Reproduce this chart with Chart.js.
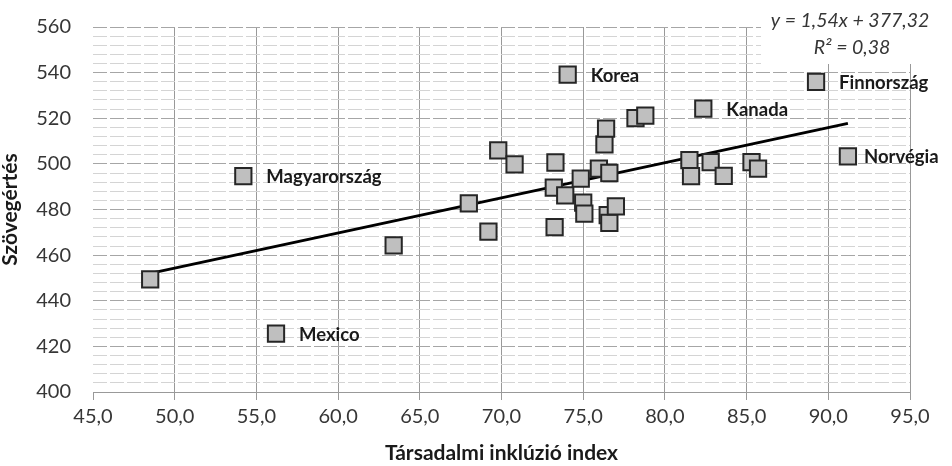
<!DOCTYPE html>
<html>
<head>
<meta charset="utf-8">
<script src="https://cdn.jsdelivr.net/npm/chart.js@4"></script>
<style>
  html, body { margin: 0; padding: 0; background: #fff; }
  #wrap { width: 952px; height: 466px; position: relative; }
</style>
</head>
<body>
<div id="wrap"><canvas id="myChart"></canvas></div>
<script>
// === データ ===
const inclusionIndex = [48.5, 54.2, 56.2, 63.4, 68.0, 69.2, 69.8, 70.8, 73.3, 73.2, 73.9, 73.25, 74.05,
                        74.85, 75.0, 75.07, 75.96, 76.6, 76.3, 76.4, 76.5, 76.6, 77.0, 78.2, 78.8,
                        82.35, 81.5, 81.6, 82.8, 83.6, 85.3, 85.7, 89.25, 91.2];
const readingScore   = [449.4, 494.6, 425.6, 464.3, 482.7, 470.3, 505.9, 499.8, 500.6, 489.6, 486.2, 472.3, 539.1,
                        493.5, 483.0, 478.2, 497.9, 496.0, 508.5, 515.5, 477.5, 474.1, 481.4, 520.1, 521.2,
                        524.2, 501.6, 494.6, 500.8, 494.7, 500.8, 497.9, 535.9, 503.3];
const countryLabels  = ['', 'Magyarország', 'Mexico', '', '', '', '', '', '', '', '', '', 'Korea',
                        '', '', '', '', '', '', '', '', '', '', '', '',
                        'Kanada', '', '', '', '', '', '', 'Finnország', 'Norvégia'];

// 近似直線 (Excel の線形トレンドライン)
const TREND_SLOPE = 1.54;
const TREND_INTERCEPT = 377.32;
const TREND_R2 = 0.38;

const X_MIN = 45, X_MAX = 95, X_STEP = 5;
const Y_MIN = 400, Y_MAX = 560, Y_STEP = 20, Y_MINOR_STEP = 4;

const FONT = 'Lato, "Open Sans", sans-serif';
const TEXT_COLOR = '#363636';

const fmt = (v, d) => v.toFixed(d).replace('.', ',');

const points = inclusionIndex.map((x, i) => ({ x: x, y: readingScore[i] }));
const xLo = Math.min(...inclusionIndex);
const xHi = Math.max(...inclusionIndex);
const trendPoints = [xLo, xHi].map(x => ({ x: x, y: TREND_SLOPE * x + TREND_INTERCEPT }));

// 国名ラベル
const LABEL_OFFSET = 23;
const LABEL_OFFSET_EXCEPT = { 'Norvégia': 16 };
const countryLabelPlugin = {
    id: 'countryLabels',
    afterDatasetsDraw(chart) {
        const ctx = chart.ctx;
        const meta = chart.getDatasetMeta(1);
        ctx.save();
        ctx.font = 'bold 18.5px ' + FONT;
        ctx.fillStyle = '#1a1a1a';
        ctx.textBaseline = 'middle';
        ctx.textAlign = 'left';
        countryLabels.forEach((name, i) => {
            if (!name) return;
            const el = meta.data[i];
            const off = LABEL_OFFSET_EXCEPT[name] ?? LABEL_OFFSET;
            ctx.fillText(name, el.x + off, el.y + 1);
        });
        ctx.restore();
    }
};

// 数式ボックス
const equationPlugin = {
    id: 'equation',
    afterDraw(chart) {
        const ctx = chart.ctx;
        ctx.save();
        ctx.fillStyle = '#fff';
        ctx.fillRect(761, 0, 191, 64);
        ctx.font = 'italic 19.5px ' + FONT;
        ctx.fillStyle = TEXT_COLOR;
        ctx.textAlign = 'center';
        ctx.textBaseline = 'middle';
        ctx.fillText(`y = ${fmt(TREND_SLOPE, 2)}x + ${fmt(TREND_INTERCEPT, 2)}`, 850, 21);
        ctx.fillText(`R² = ${fmt(TREND_R2, 2)}`, 852, 48);
        ctx.restore();
    }
};

const ctx = document.getElementById('myChart').getContext('2d');
new Chart(ctx, {
    type: 'scatter',
    data: {
        datasets: [{
            type: 'line',
            data: trendPoints,
            borderColor: '#000',
            borderWidth: 3,
            pointRadius: 0,
            fill: false,
            order: 2
        }, {
            data: points,
            pointStyle: 'rect',
            pointRadius: 11.5,
            backgroundColor: '#bfbfbf',
            borderColor: '#262626',
            borderWidth: 2,
            order: 1
        }]
    },
    options: {
        responsive: true,
        maintainAspectRatio: false,
        animation: false,
        layout: { padding: { top: 27, right: 42, left: 0, bottom: 0 } },
        plugins: {
            legend: { display: false },
            tooltip: { enabled: false }
        },
        scales: {
            x: {
                type: 'linear',
                min: X_MIN, max: X_MAX,
                afterFit: s => { s.height = 74; },
                ticks: {
                    stepSize: X_STEP,
                    color: TEXT_COLOR,
                    font: { family: FONT, size: 20 },
                    padding: 5,
                    maxRotation: 0,
                    callback: v => fmt(v, 1)
                },
                grid: {
                    color: c => c.index === 0 ? 'rgba(0,0,0,0)' : '#999999',
                    tickColor: '#999999',
                    tickLength: 8
                },
                border: { display: true, color: '#999999' },
                title: {
                    display: true,
                    text: 'Társadalmi inklúzió index',
                    color: '#1a1a1a',
                    font: { family: FONT, size: 21, weight: 'bold' },
                    padding: { top: 0, bottom: 0 }
                }
            },
            yMinor: {
                type: 'linear',
                position: 'left',
                min: Y_MIN, max: Y_MAX,
                afterFit: s => { s.width = 0; s.paddingTop = 0; s.paddingBottom = 0; },
                ticks: { display: false, stepSize: Y_MINOR_STEP },
                grid: {
                    color: c => (c.tick && c.tick.value % Y_STEP === 0) ? 'rgba(0,0,0,0)' : '#d4d4d4',
                    drawTicks: false
                },
                border: { display: false, dash: [14, 3] }
            },
            y: {
                type: 'linear',
                position: 'left',
                min: Y_MIN, max: Y_MAX,
                // 目盛りの余白がプロット上端を押し下げないようにする
                afterFit: s => { s.width = 93; s.paddingTop = 0; s.paddingBottom = 0; },
                ticks: {
                    stepSize: Y_STEP,
                    color: TEXT_COLOR,
                    font: { family: FONT, size: 20 },
                    padding: 22,
                    callback: v => v
                },
                grid: {
                    color: '#a6a6a6',
                    drawTicks: false
                },
                border: { display: false, dash: [14, 3] },
                title: {
                    display: true,
                    text: 'Szövegértés',
                    color: '#1a1a1a',
                    font: { family: FONT, size: 21, weight: 'bold' },
                    padding: { top: -2, bottom: 0 }
                }
            }
        }
    },
    plugins: [countryLabelPlugin, equationPlugin]
});
</script>
</body>
</html>
